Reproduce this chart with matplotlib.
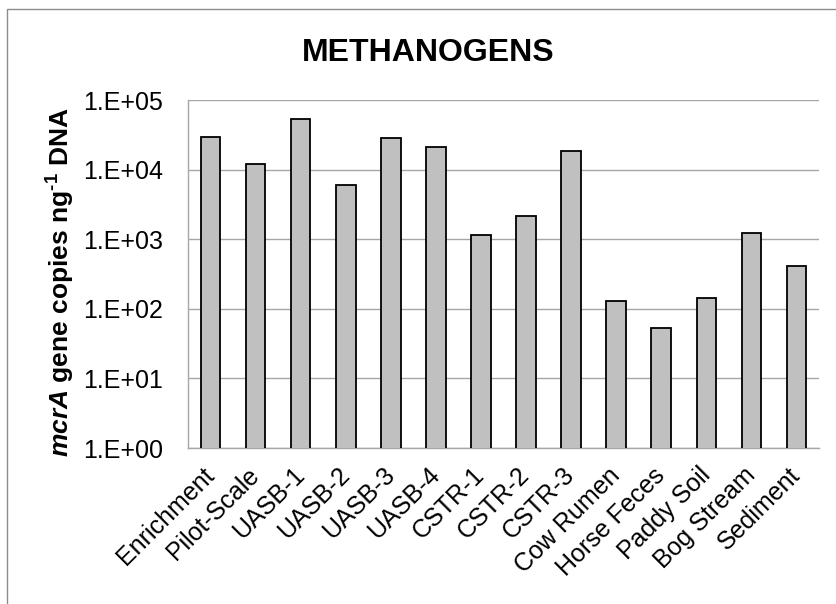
import numpy as np
import matplotlib
matplotlib.use('Agg')
import matplotlib.pyplot as plt
from matplotlib.patches import Rectangle
from matplotlib.ticker import FixedLocator, FuncFormatter, NullLocator

plt.rcParams['font.family'] = ['Liberation Sans', 'DejaVu Sans']
plt.rcParams['mathtext.fontset'] = 'custom'
plt.rcParams['mathtext.rm'] = 'Liberation Sans:bold'
plt.rcParams['mathtext.bf'] = 'Liberation Sans:bold'
plt.rcParams['mathtext.it'] = 'Liberation Sans:italic:bold'

# 各样品 mcrA 基因拷贝数 (copies / ng DNA)
samples = ['Enrichment', 'Pilot-Scale', 'UASB-1', 'UASB-2', 'UASB-3', 'UASB-4',
           'CSTR-1', 'CSTR-2', 'CSTR-3', 'Cow Rumen', 'Horse Feces', 'Paddy Soil',
           'Bog Stream', 'Sediment']
copies = [2.97e4, 1.2e4, 5.3e4, 6.0e3, 2.8e4, 2.1e4,
          1.14e3, 2.18e3, 1.87e4, 128, 53.5, 143, 1.22e3, 412]
decades = [1e0, 1e1, 1e2, 1e3, 1e4, 1e5]

W, H = 837, 604
fig = plt.figure(figsize=(W / 100, H / 100), dpi=100)
ax = fig.add_axes([188 / W, 1 - 448 / H, (819 - 188) / W, (448 - 100) / H])

x = np.arange(len(samples))
ax.bar(x, copies, width=0.435, color='#c0c0c0', edgecolor='black', linewidth=1.3, zorder=3)

ax.set_yscale('log')
ax.set_ylim(decades[0], decades[-1])
ax.set_xlim(-0.5, len(samples) - 0.5)
ax.yaxis.set_major_locator(FixedLocator(decades))
ax.yaxis.set_minor_locator(NullLocator())
ax.yaxis.set_major_formatter(FuncFormatter(lambda v, p: '1.E+%02d' % round(np.log10(v))))
ax.grid(axis='y', color='#a6a6a6', linewidth=1.0, zorder=0)
ax.set_axisbelow(True)

for s in ['top', 'right']:
    ax.spines[s].set_visible(False)
for s in ['left', 'bottom']:
    ax.spines[s].set_color('#a6a6a6')
    ax.spines[s].set_linewidth(1.0)

ax.tick_params(axis='y', length=0, pad=18, labelsize=18)
ax.tick_params(axis='x', length=0, pad=17, labelsize=18)
ax.set_xticks(x)
ax.set_xticklabels(samples, rotation=45, ha='right', va='center', rotation_mode='anchor')

ax.set_ylabel(r'$\it{mcrA}$ gene copies ng$^{\text{-1}}$ DNA', fontsize=19, fontweight='bold', va='center')
ax.yaxis.set_label_coords((61 - 188) / 631, 0.477)

fig.text(428 / W, 1 - 61 / H, 'METHANOGENS', ha='center', va='baseline', fontsize=23, fontweight='bold')

# 图表区外框（右侧和底部被裁掉）
fig.patches.append(Rectangle((7 / W, -0.1), 1.2, 1 - 9 / H + 0.1, transform=fig.transFigure,
                             fill=False, edgecolor='#8c8c8c', linewidth=1.0))

fig.savefig('out.png', dpi=100)
